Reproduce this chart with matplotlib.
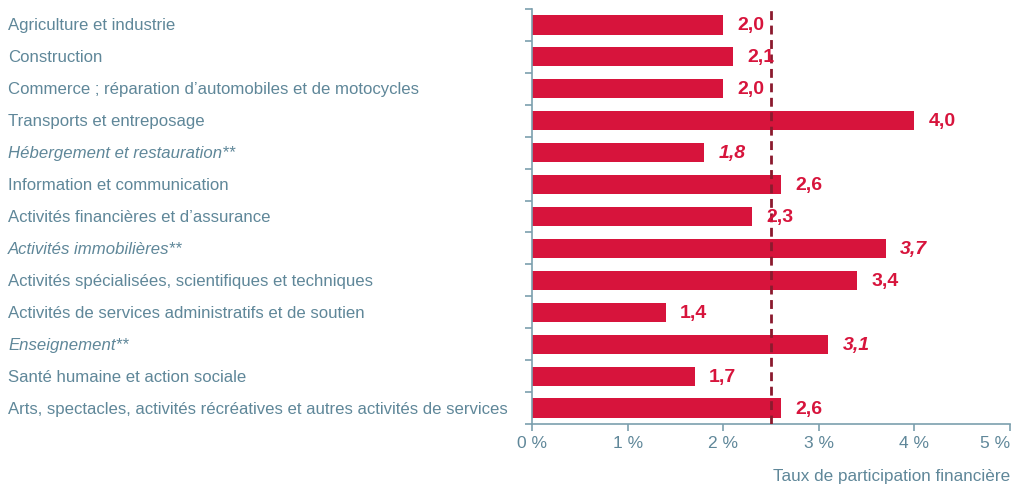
import matplotlib.pyplot as plt
import matplotlib.transforms as mtransforms
import numpy as np

secteurs = [
    "Agriculture et industrie",
    "Construction",
    "Commerce ; réparation d\u2019automobiles et de motocycles",
    "Transports et entreposage",
    "Hébergement et restauration**",
    "Information et communication",
    "Activités financières et d\u2019assurance",
    "Activités immobilières**",
    "Activités spécialisées, scientifiques et techniques",
    "Activités de services administratifs et de soutien",
    "Enseignement**",
    "Santé humaine et action sociale",
    "Arts, spectacles, activités récréatives et autres activités de services",
]
taux = [2.0, 2.1, 2.0, 4.0, 1.8, 2.6, 2.3, 3.7, 3.4, 1.4, 3.1, 1.7, 2.6]
italique = [False, False, False, False, True, False, False, True, False, False, True, False, False]
moyenne = 2.5
xticks = [0, 1, 2, 3, 4, 5]

rouge = '#d7143c'
gris = '#5f8799'
axe = '#7b9fae'

plt.rcParams['font.family'] = ['Liberation Sans', 'DejaVu Sans']

fig = plt.figure(figsize=(10.14, 4.85), dpi=100)
ax = fig.add_axes([0.5247, 0.1237, 0.4714, 0.8557])

n = len(secteurs)
y = np.arange(n)
ax.barh(y, taux, height=0.6, color=rouge, zorder=2)
ax.axvline(moyenne, color='#8b1a2e', lw=2, ls=(0, (3.2, 2)), zorder=3)

for i, v in enumerate(taux):
    ax.text(v + 0.15, i, f"{v:.1f}".replace('.', ','), va='center', ha='left',
            color=rouge, fontsize=14, fontweight='bold',
            style='italic' if italique[i] else 'normal', zorder=4)

ax.set_ylim(n - 0.5, -0.5)
ax.set_xlim(0, 5)
ax.set_yticks(np.arange(n + 1) - 0.5)
ax.set_yticklabels([])
ax.set_xticks(xticks)
ax.set_xticklabels([f"{t} %" for t in xticks], color=gris, fontsize=12.5)
ax.get_xticklabels()[-1].set_ha('right')
ax.get_xticklabels()[-1].set_position((5.02, 0))

# libellés des secteurs, alignés à gauche de la figure
trans = mtransforms.blended_transform_factory(fig.transFigure, ax.transData)
for i, s in enumerate(secteurs):
    ax.text(8 / 1014, i, s, transform=trans, fontsize=12.05, color=gris,
            va='center', ha='left', style='italic' if italique[i] else 'normal')

for sp in ['top', 'right']:
    ax.spines[sp].set_visible(False)
ax.spines['left'].set_color(axe)
ax.spines['bottom'].set_color(axe)
ax.spines['left'].set_linewidth(1.2)
ax.spines['bottom'].set_linewidth(1.2)
ax.tick_params(axis='y', length=5, color=axe, width=1.2)
ax.tick_params(axis='x', length=5, color=axe, width=1.2, pad=3)

ax.set_xlabel("Taux de participation financière", color=gris, fontsize=12.3, loc='right', labelpad=13)

plt.savefig('out.png', dpi=100)
